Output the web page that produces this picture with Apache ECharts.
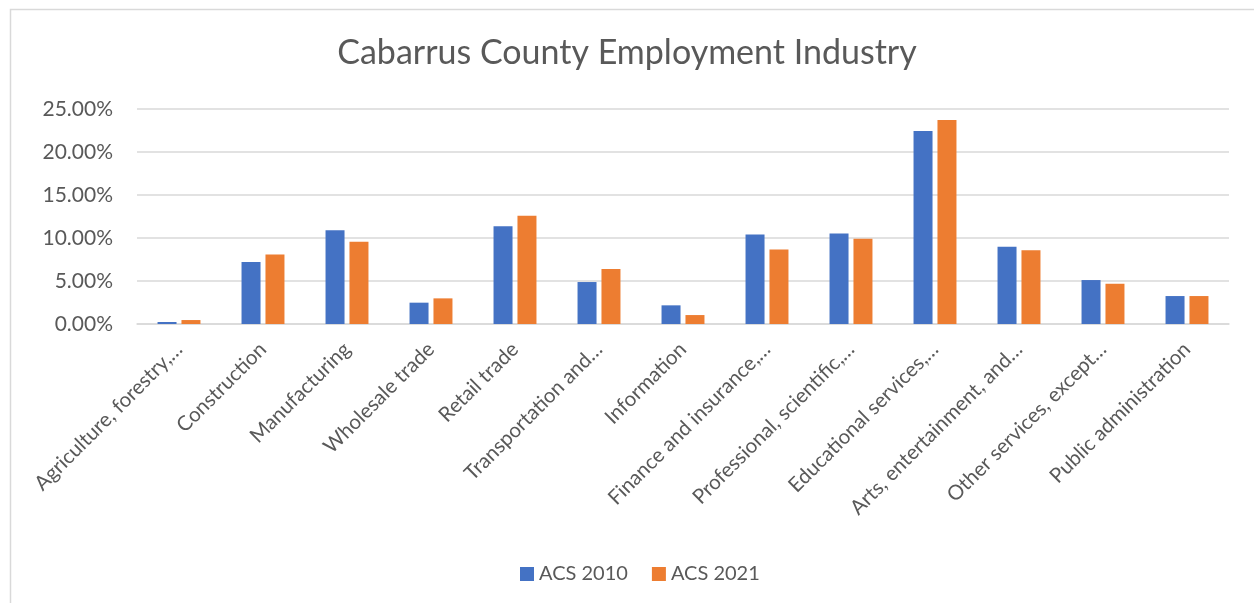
<!DOCTYPE html>
<html>
<head>
<meta charset="utf-8">
<script src="https://cdn.jsdelivr.net/npm/echarts@6/dist/echarts.min.js"></script>
<style>
  html, body { margin: 0; padding: 0; background: #fff; }
  #main { width: 1254px; height: 603px; }
</style>
</head>
<body>
<div id="main"></div>
<script>
// categories as shown on the axis (Excel truncates long names)
var industries = [
  "Agriculture, forestry,…",
  "Construction",
  "Manufacturing",
  "Wholesale trade",
  "Retail trade",
  "Transportation and…",
  "Information",
  "Finance and insurance,…",
  "Professional, scientific,…",
  "Educational services,…",
  "Arts, entertainment, and…",
  "Other services, except…",
  "Public administration"
];
// share of employment, percent
var acs2010 = [0.23, 7.2, 10.9, 2.48, 11.38, 4.88, 2.17, 10.41, 10.53, 22.45, 8.98, 5.11, 3.25];
var acs2021 = [0.46, 8.09, 9.56, 2.98, 12.58, 6.39, 1.04, 8.67, 9.91, 23.72, 8.59, 4.68, 3.25];

var textColor = "#595959";
var fontFam = "Lato, 'Open Sans', sans-serif";

var myChart = echarts.init(document.getElementById("main"));
var option = {
  animation: false,
  textStyle: { fontFamily: fontFam },
  title: {
    text: "Cabarrus County Employment Industry",
    left: "center",
    top: 31,
    textStyle: { fontFamily: fontFam, fontSize: 34, fontWeight: "normal", color: textColor }
  },
  graphic: [{
    type: "rect",
    shape: { x: 10.5, y: 9.5, width: 1400, height: 800 },
    style: { fill: "none", stroke: "#d9d9d9", lineWidth: 1.5 },
    silent: true
  }],
  legend: {
    bottom: 14,
    left: 515,
    itemWidth: 14,
    itemHeight: 14,
    itemGap: 24,
    icon: "rect",
    textStyle: { fontFamily: fontFam, fontSize: 20, color: textColor }
  },
  grid: { left: 137, right: 25, top: 109, bottom: 279, containLabel: false },
  xAxis: {
    type: "category",
    data: industries,
    axisLine: { lineStyle: { color: "#d9d9d9", width: 1.5 } },
    axisTick: { show: false },
    axisLabel: {
      rotate: 45,
      interval: 0,
      margin: 22,
      fontFamily: fontFam,
      fontSize: 20.5,
      color: textColor
    }
  },
  yAxis: {
    type: "value",
    min: 0,
    max: 25,
    interval: 5,
    axisLine: { show: false },
    axisTick: { show: false },
    splitLine: { lineStyle: { color: "#d9d9d9", width: 1.5 } },
    axisLabel: {
      margin: 24,
      fontFamily: fontFam,
      fontSize: 21,
      color: textColor,
      formatter: function (v) { return v.toFixed(2) + "%"; }
    }
  },
  series: [
    {
      name: "ACS 2010",
      type: "bar",
      data: acs2010,
      barWidth: 19,
      barGap: "26%",
      itemStyle: { color: "#4472C4" }
    },
    {
      name: "ACS 2021",
      type: "bar",
      data: acs2021,
      barWidth: 19,
      itemStyle: { color: "#ED7D31" }
    }
  ]
};
option && myChart.setOption(option);
</script>
</body>
</html>
